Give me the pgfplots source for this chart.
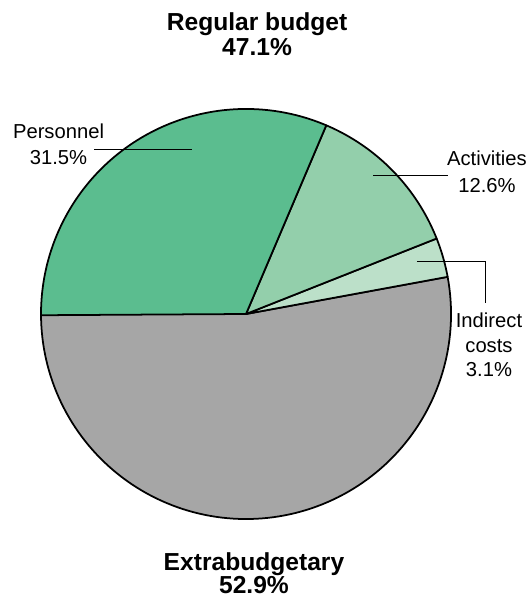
\documentclass[border=0pt]{standalone}
\usepackage{fontspec}
\setmainfont{Liberation Sans}
\usepackage{pgfplots}
\usepackage{pgfplotstable}
\pgfplotsset{compat=1.18}
\definecolor{cPers}{HTML}{5BBD8F}
\definecolor{cAct}{HTML}{93CFAB}
\definecolor{cInd}{HTML}{BCE0C9}
\definecolor{cExt}{HTML}{A6A6A6}
\pgfplotstableread{
part percent
Extrabudgetary 52.9
Indirect 3.1
Activities 12.6
Personnel 31.5
}\piedata
\begin{document}
\begin{tikzpicture}
\pgfplotstablegetelem{0}{percent}\of\piedata \let\vA\pgfplotsretval
\pgfplotstablegetelem{1}{percent}\of\piedata \let\vB\pgfplotsretval
\pgfplotstablegetelem{2}{percent}\of\piedata \let\vC\pgfplotsretval
\pgfplotstablegetelem{3}{percent}\of\piedata \let\vD\pgfplotsretval
\pgfmathsetmacro\aO{180}
\pgfmathsetmacro\aA{\aO+3.6*\vA}
\pgfmathsetmacro\aB{\aA+3.6*\vB}
\pgfmathsetmacro\aC{\aB+3.6*\vC}
\pgfmathsetmacro\aD{\aC+3.6*\vD}
\begin{axis}[
  name=ax,
  scale only axis, width=10.6cm, height=11.96cm,
  xmin=-1.206, xmax=1.392, ymin=-1.392, ymax=1.539,
  hide axis, clip=false,
]
\path (rel axis cs:0,0) rectangle (rel axis cs:1,1);
\addplot[fill=cExt, draw=black, line width=1pt, domain=\aO:\aA, samples=120, variable=\t, line join=round] ({1.005*cos(\t)},{1.005*sin(\t)}) -- (axis cs:0,0) -- cycle;
\addplot[fill=cInd, draw=black, line width=1pt, domain=\aA:\aB, samples=20, variable=\t, line join=round] ({1.005*cos(\t)},{1.005*sin(\t)}) -- (axis cs:0,0) -- cycle;
\addplot[fill=cAct, draw=black, line width=1pt, domain=\aB:\aC, samples=50, variable=\t, line join=round] ({1.005*cos(\t)},{1.005*sin(\t)}) -- (axis cs:0,0) -- cycle;
\addplot[fill=cPers, draw=black, line width=1pt, domain=\aC:\aD, samples=100, variable=\t, line join=round] ({1.005*cos(\t)},{1.005*sin(\t)}) -- (axis cs:0,0) -- cycle;
% leader lines
\addplot[black, line width=0.6pt] coordinates {(-0.745,0.807) (-0.265,0.807)};
\addplot[black, line width=0.6pt] coordinates {(0.623,0.681) (0.990,0.681)};
\addplot[black, line width=0.6pt] coordinates {(0.838,0.256) (1.176,0.256) (1.176,0.054)};
% labels
\node[align=center, font=\fontsize{14}{14.3}\selectfont\bfseries] at (axis cs:0.054,1.370) {Regular budget\\47.1\%};
\node[align=center, font=\fontsize{14}{13.2}\selectfont\bfseries, inner sep=1pt] at (axis cs:0.039,-1.272) {Extrabudgetary\\52.9\%};
\node[align=center, font=\fontsize{11.5}{14.7}\selectfont] at (axis cs:-0.919,0.833) {Personnel\\31.5\%};
\node[align=center, font=\fontsize{11.5}{15.2}\selectfont] at (axis cs:1.181,0.696) {Activities\\12.6\%};
\node[align=center, font=\fontsize{11.5}{14.0}\selectfont] at (axis cs:1.191,-0.152) {Indirect\\costs\\3.1\%};
\end{axis}
\pgfresetboundingbox
\useasboundingbox (ax.south west) rectangle (ax.north east);
\end{tikzpicture}
\end{document}
